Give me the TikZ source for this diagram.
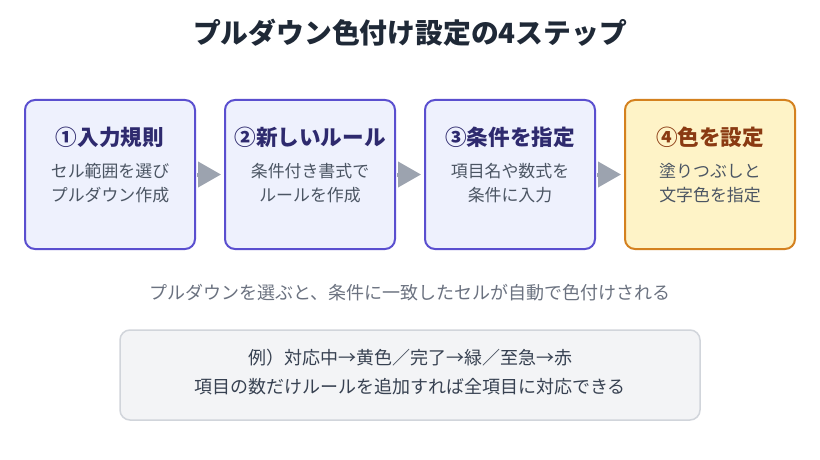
\documentclass[tikz,border=0pt]{standalone}
\usepackage{fontspec}
\setmainfont{Noto Sans CJK JP}
\usetikzlibrary{arrows.meta}
\definecolor{ttl}{HTML}{1F2937}
\definecolor{blueborder}{HTML}{5A4FCF}
\definecolor{bluefill}{HTML}{EEF1FD}
\definecolor{bluetext}{HTML}{2E2A6E}
\definecolor{orborder}{HTML}{D4811F}
\definecolor{orfill}{HTML}{FEF3C7}
\definecolor{ortext}{HTML}{8A3A12}
\definecolor{subtext}{HTML}{4B5563}
\definecolor{captext}{HTML}{6B7280}
\definecolor{arrowgrey}{HTML}{9CA3AF}
\definecolor{notefill}{HTML}{F3F4F6}
\definecolor{noteborder}{HTML}{D1D5DB}
\definecolor{notetext}{HTML}{374151}
\tikzset{
  stepbox/.style={draw=blueborder, fill=bluefill, line width=2pt, rounded corners=10pt,
    minimum width=170pt, minimum height=149pt, inner sep=0pt},
  lastbox/.style={stepbox, draw=orborder, fill=orfill},
  boxtitle/.style={font=\fontsize{21.6}{24}\selectfont\bfseries, text=bluetext, inner sep=0pt},
  boxsub/.style={font=\fontsize{16.9}{24}\selectfont, text=subtext, inner sep=0pt, align=center},
  flow/.style={draw=arrowgrey, line width=4pt, -{Triangle[length=23pt,width=25pt]},
    shorten <=1pt, shorten >=3pt},
  plain/.style={font=\fontsize{18}{24}\selectfont, inner sep=0pt},
}
\begin{document}
\begin{tikzpicture}[x=1pt,y=-1pt]
\useasboundingbox (0,0) rectangle (820,460);
\fill[white] (0,0) rectangle (820,460);
\node[font=\fontsize{27.8}{30}\selectfont\bfseries, text=ttl, inner sep=0pt] (title) at (410,33) {プルダウン色付け設定の4ステップ};

\node[stepbox] (b1) at (110,174.5) {};
\node[stepbox] (b2) at (310,174.5) {};
\node[stepbox] (b3) at (510,174.5) {};
\node[lastbox] (b4) at (710,174.5) {};

\node[boxtitle] (t1) at (110,137) {①入力規則};
\node[boxtitle] (t2) at (310,137) {②新しいルール};
\node[boxtitle] (t3) at (510,137) {③条件を指定};
\node[boxtitle, text=ortext] (t4) at (710,137) {④色を設定};

\node[boxsub] (s1a) at (110,171) {セル範囲を選び};
\node[boxsub] (s1b) at (110,195) {プルダウン作成};
\node[boxsub] (s2a) at (310,171) {条件付き書式で};
\node[boxsub] (s2b) at (310,195) {ルールを作成};
\node[boxsub] (s3a) at (510,171) {項目名や数式を};
\node[boxsub] (s3b) at (510,195) {条件に入力};
\node[boxsub] (s4a) at (710,171) {塗りつぶしと};
\node[boxsub] (s4b) at (710,195) {文字色を指定};

\draw[flow] (b1.east) -- (b2.west);
\draw[flow] (b2.east) -- (b3.west);
\draw[flow] (b3.east) -- (b4.west);

\node[plain, text=captext] (cap) at (410,293) {プルダウンを選ぶと、条件に一致したセルが自動で色付けされる};

\node[draw=noteborder, fill=notefill, line width=1.5pt, rounded corners=10pt,
  minimum width=580pt, minimum height=90pt, inner sep=0pt] (note) at (410,375) {};
\node[plain, text=notetext] (n1) at (410,358) {例）対応中→黄色／完了→緑／至急→赤};
\node[plain, text=notetext] (n2) at (410,387) {項目の数だけルールを追加すれば全項目に対応できる};
\end{tikzpicture}
\end{document}
